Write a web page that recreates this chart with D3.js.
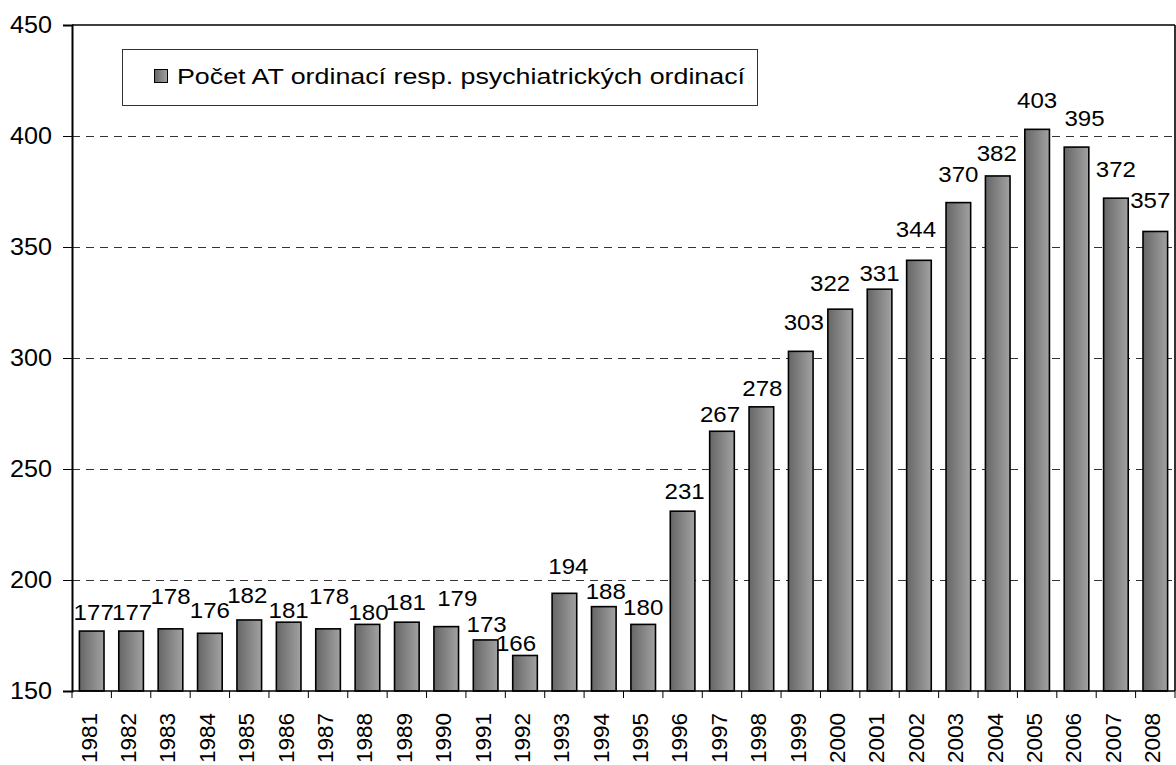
<!DOCTYPE html>
<html>
<head>
<meta charset="utf-8">
<script src="https://cdn.jsdelivr.net/npm/d3@7"></script>
<style>
  html, body { margin: 0; padding: 0; background: #fff; }
  svg { display: block; font-family: "Liberation Sans", Arial, sans-serif; }
</style>
</head>
<body>
<svg id="chart" width="1176" height="765"></svg>
<script>
// data
var years = ["1981","1982","1983","1984","1985","1986","1987","1988","1989","1990",
             "1991","1992","1993","1994","1995","1996","1997","1998","1999","2000",
             "2001","2002","2003","2004","2005","2006","2007","2008"];
var counts = [177,177,178,176,182,181,178,180,181,179,
              173,166,194,188,180,231,267,278,303,322,
              331,344,370,382,403,395,372,357];
var yTicks = [150,200,250,300,350,400,450];
var seriesName = "Počet AT ordinací resp. psychiatrických ordinací";

// Excel moved some labels around so they don't collide, copy that roughly
var labelGap = [11,11,25,15,17,4,25,4,12,21,8,4,19,8,9,12,9,11,21,18,8,23,21,15,21,21,21,23];
var labelDx  = [2,1,0,0,-2,0,1,1,-1,11,1,-9,4,2,0,2,-2,1,3,-10,0,-3,0,-1,0,8,0,-5];

var svg = d3.select("#chart");
var pLeft = 72, pRight = 1175, pTop = 25, pBottom = 691;

var x = d3.scaleBand().domain(years).range([pLeft, pRight]).paddingInner(0.375).paddingOuter(0.1875);
var xEdge = d3.scaleBand().domain(years).range([pLeft, pRight]);
var y = d3.scaleLinear().domain([150, 450]).range([pBottom, pTop]);

var defs = svg.append("defs");
var grad = defs.append("linearGradient").attr("id", "barGrad")
    .attr("x1", "0%").attr("x2", "100%").attr("y1", "0%").attr("y2", "0%");
grad.append("stop").attr("offset", "0%").attr("stop-color", "#666");
grad.append("stop").attr("offset", "100%").attr("stop-color", "#a2a2a2");

//gridlines
svg.append("g").selectAll("line")
    .data(yTicks.filter(function(d){ return d > 150 && d < 450; }))
    .enter().append("line")
    .attr("x1", pLeft).attr("x2", pRight)
    .attr("y1", function(d){ return Math.round(y(d)) + 0.5; })
    .attr("y2", function(d){ return Math.round(y(d)) + 0.5; })
    .style("stroke", "#333")
    .style("stroke-width", "1px")
    .style("stroke-dasharray", "8,6");

//bars
svg.append("g").selectAll("rect")
    .data(counts).enter()
    .append("rect")
    .attr("x", function(d, i){ return x(years[i]); })
    .attr("width", x.bandwidth())
    .attr("y", function(d){ return y(d); })
    .attr("height", function(d){ return pBottom - y(d); })
    .style("fill", "url(#barGrad)")
    .style("stroke", "#000")
    .style("stroke-width", "1.6px");

//value labels (a bit wider than the font, like the stretched original)
svg.append("g").selectAll("text")
    .data(counts).enter()
    .append("text")
    .attr("transform", function(d, i){
        var cx = x(years[i]) + x.bandwidth()/2 + labelDx[i];
        return "translate(" + cx + "," + (y(d) - labelGap[i]) + ") scale(1.07,1)";
    })
    .attr("text-anchor", "middle")
    .style("font-size", "22.5px")
    .style("fill", "#000")
    .text(function(d){ return d; });

//plot frame
svg.append("line").attr("x1", pLeft).attr("x2", pRight).attr("y1", pTop).attr("y2", pTop)
    .style("stroke", "#000").style("stroke-width", "1.6px");
svg.append("line").attr("x1", pRight).attr("x2", pRight).attr("y1", pTop).attr("y2", pBottom)
    .style("stroke", "#000").style("stroke-width", "1.6px");

//y axis
var yAxis = d3.axisLeft(y).tickValues(yTicks).tickSize(9).tickPadding(11);
var gy = svg.append("g").attr("transform", "translate(" + pLeft + ",0)").call(yAxis);
gy.select(".domain").style("stroke-width", "2px");
gy.selectAll(".tick line").style("stroke-width", "1px");
gy.selectAll(".tick text")
    .style("font-size", "23.5px")
    .style("font-family", "Liberation Sans, Arial, sans-serif")
    .attr("fill", "#000")
    .attr("textLength", 42).attr("lengthAdjust", "spacingAndGlyphs");

//x axis: ticks between categories
var gx = svg.append("g");
gx.append("line").attr("x1", pLeft).attr("x2", pRight).attr("y1", pBottom).attr("y2", pBottom)
    .style("stroke", "#000").style("stroke-width", "1.6px");
gx.selectAll(".edge")
    .data(years.concat(["end"])).enter()
    .append("line")
    .attr("class", "edge")
    .attr("x1", function(d, i){ return i < years.length ? xEdge(d) : pRight; })
    .attr("x2", function(d, i){ return i < years.length ? xEdge(d) : pRight; })
    .attr("y1", pBottom).attr("y2", pBottom + 7)
    .style("stroke", "#000").style("stroke-width", "1px");
gx.selectAll(".year")
    .data(years).enter()
    .append("text")
    .attr("class", "year")
    .attr("transform", function(d){
        return "translate(" + (xEdge(d) + xEdge.bandwidth()/2 - 3) + "," + 713 + ") rotate(-90)";
    })
    .attr("dy", "0.35em")
    .attr("text-anchor", "end")
    .style("font-size", "22.5px")
    .text(function(d){ return d; });

//legend
var lg = svg.append("g");
lg.append("rect").attr("x", 122.5).attr("y", 49.5).attr("width", 635).attr("height", 56)
    .style("fill", "#fff").style("stroke", "#333").style("stroke-width", "1px");
lg.append("rect").attr("x", 154.5).attr("y", 69.5).attr("width", 13).attr("height", 13)
    .style("fill", "url(#barGrad)").style("stroke", "#000").style("stroke-width", "1px");
lg.append("text").attr("x", 177).attr("y", 84)
    .style("font-size", "22.5px")
    .attr("textLength", 568).attr("lengthAdjust", "spacingAndGlyphs")
    .text(seriesName);
</script>
</body>
</html>
